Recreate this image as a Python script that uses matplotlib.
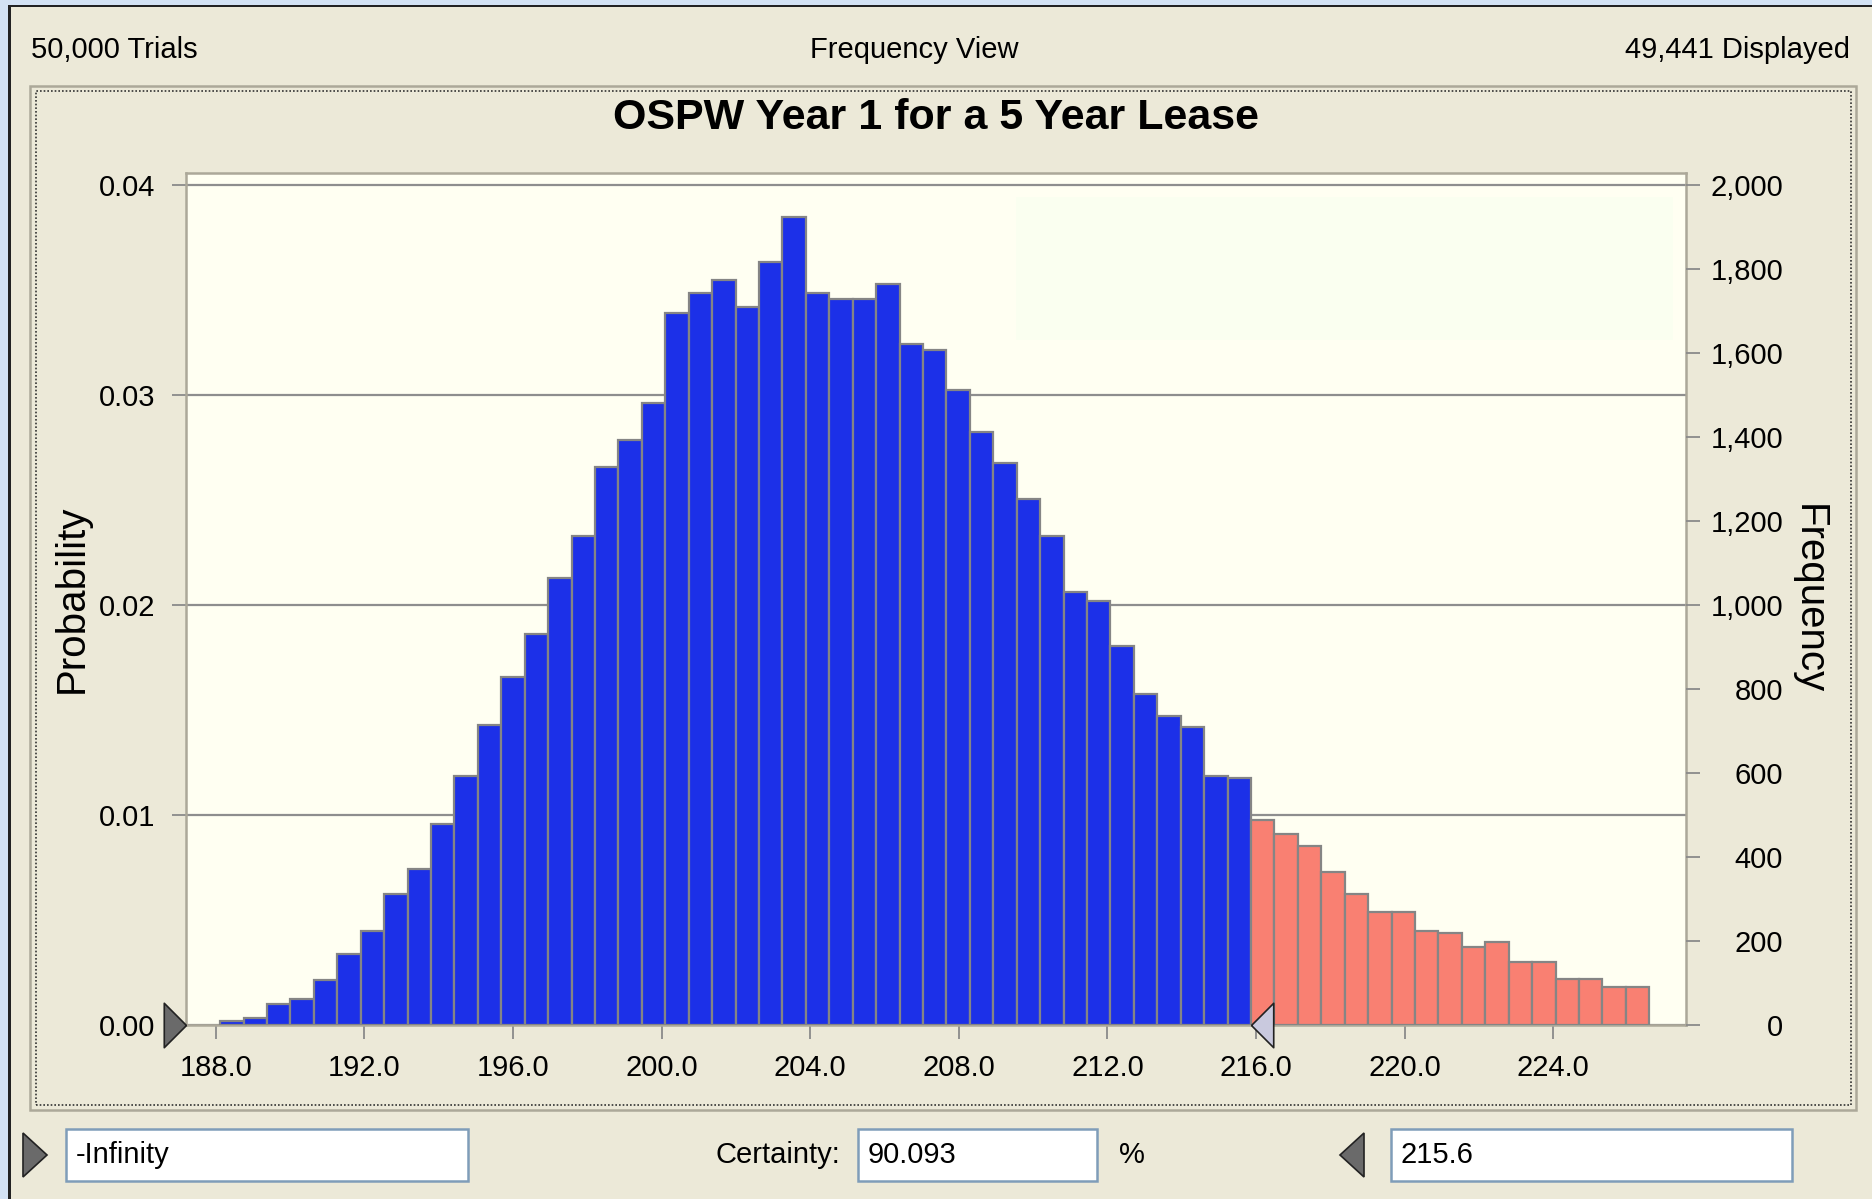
import numpy as np
import matplotlib
matplotlib.use("Agg")
from matplotlib import pyplot as plt
from matplotlib.patches import Rectangle, Polygon
from matplotlib.path import Path

# ---------- data ----------
trials = 50000
bin_lo, bin_hi = 188.12, 226.58          # range covered by the 61 bins
split_value = 215.6                      # certainty upper bound
counts = [10, 17, 50, 63, 108, 170, 225, 311, 372, 479,
          594, 714, 829, 930, 1064, 1164, 1328, 1394, 1480, 1696,
          1743, 1775, 1709, 1817, 1924, 1743, 1728, 1728, 1764, 1621,
          1608, 1513, 1413, 1338, 1252, 1164, 1030, 1009, 902, 787,
          735, 709, 594, 587, 487, 454, 427, 365, 311, 270,
          270, 225, 220, 185, 198, 151, 151, 110, 110, 90, 90]
n_blue = 44                              # bins left of the certainty marker
x_ticks = [188.0, 192.0, 196.0, 200.0, 204.0, 208.0, 212.0, 216.0, 220.0, 224.0]
prob_ticks = [0.00, 0.01, 0.02, 0.03, 0.04]
freq_ticks = [0, 200, 400, 600, 800, 1000, 1200, 1400, 1600, 1800, 2000]

title = "OSPW Year 1 for a 5 Year Lease"
top_left, top_mid, top_right = "50,000 Trials", "Frequency View", "49,441 Displayed"
lower_text, certainty_text, upper_text = "-Infinity", "90.093", "215.6"

# ---------- style ----------
W, H = 1872, 1199
BEIGE = "#ece9d8"
PLOT_BG = "#fffff2"
BLUE = "#1c30e8"
SALMON = "#f98072"
EDGE = "#858585"
GRID = "#8e8e8e"
FRAME = "#aca899"
NARROW = ["Liberation Sans Narrow", "Liberation Sans", "DejaVu Sans"]
REG = ["Liberation Sans", "DejaVu Sans"]


def fx(x):
    return x / W


def fy(y):
    return 1 - y / H


fig = plt.figure(figsize=(W / 100, H / 100), dpi=100)
fig.patch.set_facecolor(BEIGE)

# window edges (light blue strip + dark line) on top and left
fig.patches.append(Rectangle((0, fy(5)), 1, 5 / H, transform=fig.transFigure,
                             facecolor="#d3e2f4", edgecolor="none"))
fig.patches.append(Rectangle((0, fy(7)), 1, 2 / H, transform=fig.transFigure,
                             facecolor="#222222", edgecolor="none"))
fig.patches.append(Rectangle((0, 0), fx(8), 1, transform=fig.transFigure,
                             facecolor="#d3e2f4", edgecolor="none"))
fig.patches.append(Rectangle((fx(8), 0), fx(3), fy(7), transform=fig.transFigure,
                             facecolor="#222222", edgecolor="none"))

# chart group box: solid grey + dotted inner line
fig.patches.append(Rectangle((fx(30), fy(1110)), fx(1826), 1024 / H, transform=fig.transFigure,
                             facecolor="none", edgecolor=FRAME, linewidth=1.8))
fig.patches.append(Rectangle((fx(36), fy(1105)), fx(1815), 1014 / H, transform=fig.transFigure,
                             facecolor="none", edgecolor="#333333", linewidth=1.2,
                             linestyle=(0, (1, 1.2))))

# header texts
fig.text(fx(31), fy(50), top_left, family=NARROW, fontsize=21, va="center", ha="left")
fig.text(fx(914), fy(50), top_mid, family=NARROW, fontsize=21, va="center", ha="center")
fig.text(fx(1850), fy(50), top_right, family=NARROW, fontsize=21, va="center", ha="right")

# ---------- histogram ----------
ax = fig.add_axes([fx(186), 1 - 1025 / H, 1500 / W, 852 / H])
ax.set_facecolor(PLOT_BG)

edges = np.linspace(bin_lo, bin_hi, len(counts) + 1)
width = edges[1] - edges[0]
probs = np.array(counts) / trials
colors = [BLUE] * n_blue + [SALMON] * (len(counts) - n_blue)
ax.bar(edges[:-1], probs, width=width, align="edge", color=colors,
       edgecolor=EDGE, linewidth=1.6, zorder=3)

# faint ghost panel in the upper right
ax.add_patch(Rectangle((0.553, 0.804), 0.438, 0.168, transform=ax.transAxes,
                       facecolor="#fafff0", edgecolor="none", zorder=0))

ax.set_xlim(187.2, 227.57)
ax.set_ylim(0, 0.04 * 852 / 840)
ax.set_yticks(prob_ticks)
ax.set_yticklabels(["%.2f" % v for v in prob_ticks], family=NARROW, fontsize=21)
ax.set_xticks(x_ticks)
ax.set_xticklabels(["%.1f" % v for v in x_ticks], family=NARROW, fontsize=21)
ax.grid(axis="y", color=GRID, linewidth=1.6, zorder=1)
ax.grid(axis="x", visible=False)
ax.set_axisbelow(True)
ax.tick_params(axis="x", length=10, width=1.3, color="#8a8a8a", pad=11)
ax.tick_params(axis="y", length=10, width=1.3, color="#8a8a8a", pad=12)
for s in ax.spines.values():
    s.set_color(FRAME)
    s.set_linewidth(1.8)
ax.set_ylabel("Probability", family=REG, fontsize=29, labelpad=6)

ax2 = ax.twinx()
lo, hi = ax.get_ylim()
ax2.set_ylim(lo * trials, hi * trials)
ax2.set_yticks(freq_ticks)
ax2.set_yticklabels(["{:,}".format(v) for v in freq_ticks], family=NARROW,
                    fontsize=21, ha="right")
ax2.tick_params(axis="y", length=10, width=1.3, color="#8a8a8a", pad=60)
for s in ax2.spines.values():
    s.set_visible(False)
ax2.set_ylabel("Frequency", family=REG, fontsize=29, rotation=270, labelpad=32)

# slider markers on the axis
right_tri = Path([(0, 0), (-1, 1), (-1, -1), (0, 0)])
left_tri = Path([(0, 0), (1, 1), (1, -1), (0, 0)])
ax.plot([ax.get_xlim()[0]], [0], marker=right_tri, markersize=32, color="#6a6a6a",
        markeredgecolor="#222222", markeredgewidth=1.2, clip_on=False, zorder=6)
ax.plot([edges[n_blue]], [0], marker=left_tri, markersize=32, color="#c9c9de",
        markeredgecolor="#222222", markeredgewidth=1.2, clip_on=False, zorder=6)

# title sits above the plot frame (frame top at y=173 px, title centre at y=118 px)
ax.text(0.5, 1 + (173 - 118) / 852, title, transform=ax.transAxes, ha="center",
        va="center", family=REG, fontsize=31, fontweight="bold")


# ---------- bottom controls ----------
def textbox(x0, x1, txt):
    fig.patches.append(Rectangle((fx(x0), fy(1181)), fx(x1 - x0), 52 / H,
                                 transform=fig.transFigure, facecolor="white",
                                 edgecolor="#7f9db9", linewidth=1.8))
    fig.text(fx(x0 + 10), fy(1155), txt, family=NARROW, fontsize=21,
             va="center", ha="left")


textbox(66, 468, lower_text)
textbox(858, 1097, certainty_text)
textbox(1391, 1792, upper_text)
fig.text(fx(840), fy(1155), "Certainty:", family=NARROW, fontsize=21, va="center", ha="right")
fig.text(fx(1132), fy(1155), "%", family=NARROW, fontsize=21, va="center", ha="center")

fig.patches.append(Polygon([(fx(23), fy(1133)), (fx(47), fy(1155)), (fx(23), fy(1177))],
                           closed=True, transform=fig.transFigure,
                           facecolor="#6a6a6a", edgecolor="#222222", linewidth=1.2))
fig.patches.append(Polygon([(fx(1364), fy(1133)), (fx(1340), fy(1155)), (fx(1364), fy(1177))],
                           closed=True, transform=fig.transFigure,
                           facecolor="#6a6a6a", edgecolor="#222222", linewidth=1.2))

fig.savefig("out.png", dpi=100, facecolor=fig.get_facecolor())
